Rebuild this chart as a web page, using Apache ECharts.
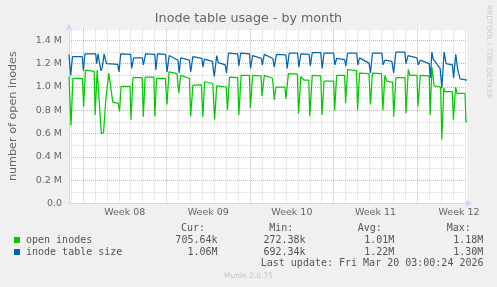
<!DOCTYPE html>
<html><head><meta charset="utf-8">
<script src="https://cdn.jsdelivr.net/npm/echarts@6/dist/echarts.min.js"></script>
<style>html,body{margin:0;padding:0;background:#F0F0F0}#c{width:497px;height:287px}</style>
</head><body><div id="c"></div>
<script>
// hours since left edge of graph, value in millions of inodes
const openInodes = [[0,1.09],[4,0.67],[8,1.075],[27,1.075],[29.4,0.83],[33,1.145],[50.6,1.135],[52.6,0.76],[56.6,1.145],[60.6,1.13],[65,0.60],[69.4,0.61],[74,0.89],[80,1.12],[83,1.11],[88,0.87],[99,0.86],[101.6,0.79],[104.6,1.005],[122.6,1.005],[124.6,0.72],[128.6,1.08],[147,1.08],[149.4,0.745],[153,1.085],[170.6,1.085],[172.6,0.746],[176,1.075],[193.6,1.075],[197,0.85],[201,1.13],[217,1.115],[220.6,0.95],[224.6,1.10],[242,1.075],[244.6,0.75],[249,1.015],[266,1.02],[269,0.745],[272.6,1.045],[289,1.03],[292.6,0.72],[297,1.01],[316,1.0],[318.6,0.80],[322.6,1.085],[339,1.08],[341.4,0.76],[346,1.10],[362.6,1.10],[364.6,0.82],[369,1.10],[386,1.095],[388,0.92],[392.6,1.10],[409,1.075],[412.6,0.89],[416,1.00],[434,1.0],[436,0.90],[441,1.115],[459,1.11],[461.4,0.77],[466,1.09],[472,1.06],[482,1.06],[484,0.75],[489,1.10],[506,1.095],[508.6,0.76],[512.6,1.05],[532,1.05],[534,0.80],[538,1.10],[554,1.10],[556,0.86],[560,1.15],[578,1.14],[580,0.80],[584,1.12],[603,1.115],[606,0.85],[610,1.12],[628,1.115],[631,0.80],[635,1.10],[639,1.05],[650.6,1.04],[652.6,0.746],[657,1.08],[675.4,1.08],[677.4,0.775],[682,1.15],[685,1.10],[699.4,1.10],[701.4,0.83],[706,1.10],[724,1.095],[726,0.76],[729.4,1.17],[734,1.01],[747,1.0],[749.4,0.55],[753.4,0.99],[756,0.96],[770.6,0.96],[772.6,0.72],[777,1.0],[780,0.945],[796,0.945],[798,0.70],[800,0.705]];
const tableSize = [[0,1.28],[3.4,1.10],[7,1.26],[26.6,1.26],[29,1.14],[32,1.285],[53.6,1.285],[55.6,1.20],[58.4,1.285],[61,1.28],[64,1.14],[67,1.17],[70.6,1.285],[74,1.22],[76,1.20],[98,1.195],[100.6,1.13],[104,1.285],[124,1.28],[126,1.16],[130,1.25],[147.6,1.25],[149.6,1.19],[154,1.285],[172.6,1.28],[174.6,1.146],[178,1.285],[194,1.28],[197,1.13],[201.4,1.27],[219,1.23],[221.4,1.12],[224.6,1.25],[242,1.23],[244.6,1.13],[249,1.26],[267,1.245],[269.4,1.17],[272,1.24],[288,1.22],[292,1.09],[297,1.27],[300,1.21],[314,1.19],[316.6,1.12],[320.6,1.29],[339,1.285],[341.4,1.18],[345,1.29],[362.6,1.285],[365,1.16],[369,1.27],[386.6,1.245],[388.6,1.19],[392.6,1.28],[409.6,1.245],[412.6,1.17],[417,1.28],[436,1.275],[438.6,1.16],[442.6,1.29],[459.4,1.29],[462,1.17],[466,1.285],[482.6,1.28],[485,1.18],[489,1.295],[506,1.295],[509,1.16],[512.6,1.29],[532,1.29],[534.4,1.19],[538,1.245],[554,1.235],[556.4,1.18],[560,1.29],[578.4,1.29],[580.6,1.19],[584,1.25],[603,1.205],[606,1.12],[610,1.29],[629,1.29],[631.4,1.19],[635,1.23],[649,1.22],[652.6,1.12],[657,1.30],[675,1.30],[677.4,1.20],[681.4,1.27],[699.4,1.25],[702,1.19],[706,1.23],[724,1.20],[726.4,1.08],[729.4,1.30],[732,1.24],[746,1.16],[749.4,0.99],[754,1.30],[758,1.20],[770.6,1.19],[773,1.075],[777.4,1.28],[781,1.16],[786,1.07],[800,1.06]];
const seriesNames = ['open inodes', 'inode table size'];
const weekLabelHours = [112, 280, 448, 616, 784];
const weekLabels = ['Week 08', 'Week 09', 'Week 10', 'Week 11', 'Week 12'];
const yTickLabels = ['0.0', '0.2 M', '0.4 M', '0.6 M', '0.8 M', '1.0 M', '1.2 M', '1.4 M'];
const statHeaders = ['Cur:', 'Min:', 'Avg:', 'Max:'];
const openStats = ['705.64k', '272.38k', '1.01M', '1.18M'];
const sizeStats = ['1.06M', '692.34k', '1.22M', '1.30M'];
const lastUpdate = 'Last update: Fri Mar 20 03:00:24 2026';

const RED = 'rgba(235,110,110,0.6)';
const GRAY = 'rgba(150,150,150,0.38)';
const NONE = 'rgba(0,0,0,0)';
const xColors = [];
for (let i = 0; i < 42; i++) xColors.push(i === 7 ? RED : (i % 6 === 1 ? GRAY : NONE));
const AXIS = '#CFD6F8';
const FONT = '"DejaVu Sans", sans-serif';
const MONO = '10px "DejaVu Sans Mono", monospace';
const TXT = '#555';

const chart = echarts.init(document.getElementById('c'), null, {renderer: 'canvas'});
const headerX = [181, 269.3, 357.7, 446.7];
const valRight = [217.5, 305.6, 394.3, 483.3];
const graphics = [];
statHeaders.forEach((t, i) => graphics.push({type: 'text', style: {text: t, x: headerX[i], y: 228, font: MONO, fill: TXT, textAlign: 'left', textVerticalAlign: 'middle'}}));
openStats.forEach((t, i) => graphics.push({type: 'text', style: {text: t, x: valRight[i], y: 240, font: MONO, fill: TXT, textAlign: 'right', textVerticalAlign: 'middle'}}));
sizeStats.forEach((t, i) => graphics.push({type: 'text', style: {text: t, x: valRight[i], y: 252, font: MONO, fill: TXT, textAlign: 'right', textVerticalAlign: 'middle'}}));
graphics.push({type: 'text', style: {text: lastUpdate, x: 483.5, y: 263.5, font: MONO, fill: TXT, textAlign: 'right', textVerticalAlign: 'middle'}});
graphics.push({type: 'text', style: {text: 'Munin 2.0.75', x: 248.5, y: 276, font: '7.5px ' + FONT, fill: '#c4c4c4', textAlign: 'center', textVerticalAlign: 'middle'}});
graphics.push({type: 'text', x: 489, y: 5, rotation: -Math.PI / 2, style: {text: 'RRDTOOL / TOBI OETIKER', x: 0, y: 0, font: '7.3px ' + FONT, fill: '#cccccc', textAlign: 'left', textVerticalAlign: 'middle'}});

chart.setOption({
  animation: false,
  backgroundColor: '#F0F0F0',
  title: {text: 'Inode table usage - by month', left: 'center', top: 12, padding: 0,
    textStyle: {fontFamily: FONT, fontSize: 12.7, fontWeight: 'normal', color: '#666'}},
  grid: {left: 67, top: 28.75, width: 400, height: 174.75, show: true, backgroundColor: '#fff', borderWidth: 0},
  legend: {orient: 'vertical', left: 14, top: 234, padding: 0, itemGap: 0, itemWidth: 6, itemHeight: 6,
    icon: 'rect', selectedMode: false,
    textStyle: {fontFamily: '"DejaVu Sans Mono", monospace', fontSize: 10, color: TXT, lineHeight: 12, padding: [0, 0, 0, 1]},
    data: seriesNames},
  xAxis: {type: 'value', min: 0, max: 800, interval: 4,
    axisLine: {show: true, lineStyle: {color: AXIS, width: 1}, symbol: ['none', 'arrow'], symbolSize: [6, 7], symbolOffset: [0, 5]},
    axisTick: {show: false},
    axisLabel: {margin: 4, fontFamily: FONT, fontSize: 9.5, color: '#666', showMinLabel: true, showMaxLabel: true,
      formatter: v => { const i = weekLabelHours.indexOf(Math.round(v)); return i >= 0 ? weekLabels[i] : ''; }},
    splitLine: {show: true, lineStyle: {color: xColors, width: 1, type: [1, 1]}}},
  yAxis: {type: 'value', min: 0, max: 1.5, interval: 0.1,
    name: 'number of open inodes', nameLocation: 'middle', nameGap: 50, nameRotate: 90,
    nameTextStyle: {fontFamily: FONT, fontSize: 11.2, color: '#666'},
    axisLine: {show: true, lineStyle: {color: AXIS, width: 1}, symbol: ['none', 'arrow'], symbolSize: [6, 7], symbolOffset: [0, 5]},
    axisTick: {show: false},
    axisLabel: {margin: 7, fontFamily: FONT, fontSize: 9.5, color: '#666',
      formatter: v => { const t = Math.round(v * 10); return t % 2 ? '' : (yTickLabels[t / 2] || ''); }},
    splitLine: {show: true, lineStyle: {color: [RED, GRAY], width: 1, type: [1, 1]}}},
  series: [
    {name: seriesNames[0], type: 'line', data: openInodes, symbol: 'none', lineStyle: {width: 1.25, color: '#00CC00'}, itemStyle: {color: '#00CC00'}, z: 2},
    {name: seriesNames[1], type: 'line', data: tableSize, symbol: 'none', lineStyle: {width: 1.25, color: '#0066B3'}, itemStyle: {color: '#0066B3'}, z: 3}
  ],
  graphic: graphics
});
</script></body></html>
